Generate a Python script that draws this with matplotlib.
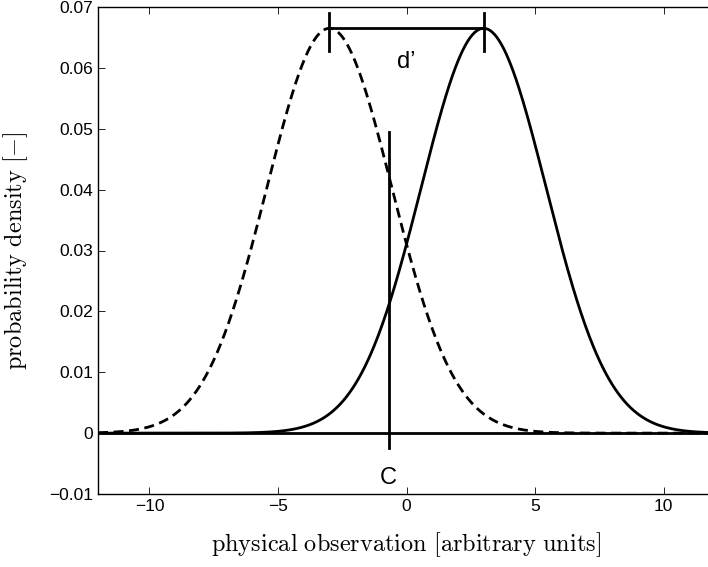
import numpy as np
import matplotlib
matplotlib.use('Agg')
import matplotlib.pyplot as plt

# distribution parameters
noise_mean = -3.0
signal_mean = 3.0
sigma = 2.43
peak = 0.0665
criterion = -0.7

x_range = (-12, 12)
x_ticks = [-10, -5, 0, 5, 10]
y_ticks = [-0.01, 0, 0.01, 0.02, 0.03, 0.04, 0.05, 0.06, 0.07]
y_tick_labels = ['\u22120.01', '0', '0.01', '0.02', '0.03', '0.04', '0.05', '0.06', '0.07']
x_tick_labels = ['\u221210', '\u22125', '0', '5', '10']

plt.rcParams['mathtext.fontset'] = 'cm'
plt.rcParams['font.family'] = ['Liberation Sans', 'DejaVu Sans']

x = np.linspace(x_range[0], x_range[1], 600)
noise = peak * np.exp(-(x - noise_mean) ** 2 / (2 * sigma ** 2))
signal = peak * np.exp(-(x - signal_mean) ** 2 / (2 * sigma ** 2))

fig = plt.figure(figsize=(7.08, 5.67), dpi=100)
ax = fig.add_axes([98 / 708., 1 - 494 / 567., 617 / 708., 487 / 567.])

lw = 2.0
ax.axhline(0, color='k', lw=lw)
ax.plot(x, noise, 'k--', lw=lw, dashes=(3.6, 2.0))
ax.plot(x, signal, 'k-', lw=lw)

# criterion line
ax.plot([criterion, criterion], [-0.0025, 0.0495], 'k-', lw=lw)
ax.text(criterion, -0.0073, 'C', ha='center', va='center', fontsize=17)

# d' bracket
ax.plot([noise_mean, signal_mean], [0.0665, 0.0665], 'k-', lw=lw)
for m in (noise_mean, signal_mean):
    ax.plot([m, m], [0.0627, 0.0690], 'k-', lw=lw)
ax.text(0, 0.0610, "d\u2019", ha='center', va='center', fontsize=17)

ax.set_xlim(x_range)
ax.set_ylim(-0.01, 0.07)
ax.set_xticks(x_ticks)
ax.set_xticklabels(x_tick_labels)
ax.set_yticks(y_ticks)
ax.set_yticklabels(y_tick_labels)
ax.tick_params(direction='in', top=True, right=True, labelsize=12.5, length=5, width=0.6)
for s in ax.spines.values():
    s.set_linewidth(1.0)

ax.set_xlabel(r'$\mathrm{physical\ observation\ [arbitrary\ units]}$', fontsize=17.5, labelpad=12)
ax.set_ylabel(r'$\mathrm{probability\ density\ [-]}$', fontsize=17.5, labelpad=14)

fig.savefig('out.png', dpi=100)
